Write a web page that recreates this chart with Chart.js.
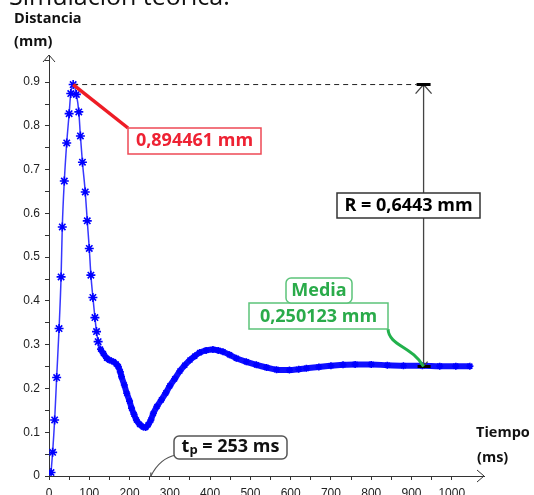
<!DOCTYPE html>
<html>
<head>
<meta charset="utf-8">
<script src="https://cdn.jsdelivr.net/npm/chart.js@4"></script>
<style>
  html, body { margin: 0; padding: 0; background: #fff; }
  #wrap { width: 534px; height: 495px; }
</style>
</head>
<body>
<div id="wrap"><canvas id="respuesta" width="534" height="495"></canvas></div>
<script>
// Respuesta simulada: tiempo (ms) y distancia (mm)
const tiempoMs = [5, 9, 14, 19, 25, 30, 33, 38, 44, 50, 54, 60, 68, 74, 78, 83, 90, 95, 100, 104, 109, 114, 118, 122,
  128, 135, 143, 150, 160, 167, 172, 177, 180, 187, 193, 200, 205, 211, 217, 225, 234, 240, 246, 253, 259, 268,
  279, 290, 300, 312, 325, 337, 350, 362, 374, 390, 407, 420, 432, 448, 465, 490, 515, 540, 565, 597, 620, 639,
  670, 700, 730, 760, 800, 840, 880, 927, 970, 1010, 1045];
const distanciaMm = [0.008, 0.054, 0.128, 0.225, 0.337, 0.455, 0.569, 0.674, 0.761, 0.828, 0.874, 0.894461, 0.872,
  0.832, 0.777, 0.717, 0.649, 0.583, 0.520, 0.459, 0.408, 0.362, 0.330, 0.307,
  0.290, 0.280, 0.269, 0.265, 0.261, 0.256, 0.250, 0.238, 0.227, 0.208, 0.189, 0.171, 0.155, 0.141, 0.128, 0.118,
  0.112, 0.111, 0.117, 0.128, 0.143, 0.159, 0.174, 0.190, 0.206, 0.222, 0.240, 0.253, 0.265, 0.274, 0.282, 0.287,
  0.289, 0.287, 0.284, 0.277, 0.269, 0.261, 0.254, 0.248, 0.243, 0.242, 0.244, 0.246, 0.249, 0.252, 0.254, 0.255,
  0.255, 0.253, 0.252, 0.252, 0.251, 0.251, 0.251];

// Valores anotados
const picoMm = 0.894461;
const mediaMm = 0.250123;
const rangoMm = 0.6443;
const tpMs = 253;
const cotaMs = 930;

// Marcas de los ejes
const xTicks = [0, 50, 100, 150, 200, 250, 300, 350, 400, 450, 500, 550, 600, 650, 700, 750, 800, 850, 900, 950, 1000];
const yTicks = [0, 0.05, 0.1, 0.15, 0.2, 0.25, 0.3, 0.35, 0.4, 0.45, 0.5, 0.55, 0.6, 0.65, 0.7, 0.75, 0.8, 0.85, 0.9, 0.95];

const puntos = tiempoMs.map((t, i) => ({ x: t, y: distanciaMm[i] }));
const FONT = '"Open Sans", "Noto Sans", sans-serif';

function caja(ctx, x, y, w, h, color, r) {
  ctx.beginPath();
  if (r) ctx.roundRect(x, y, w, h, r); else ctx.rect(x, y, w, h);
  ctx.fillStyle = '#fff';
  ctx.fill();
  ctx.lineWidth = 1.5;
  ctx.strokeStyle = color;
  ctx.stroke();
}

function texto(ctx, s, x, y, color, size, align) {
  ctx.font = 'bold ' + size + 'px ' + FONT;
  ctx.fillStyle = color;
  ctx.textAlign = align || 'center';
  ctx.textBaseline = 'middle';
  ctx.fillText(s, x, y);
}

const anotaciones = {
  id: 'anotaciones',
  afterDraw(chart) {
    const ctx = chart.ctx;
    const xs = chart.scales.x, ys = chart.scales.y;
    const area = chart.chartArea;
    ctx.save();

    // titulo recortado arriba
    ctx.font = '25px ' + FONT;
    ctx.fillStyle = '#111';
    ctx.textAlign = 'left';
    ctx.textBaseline = 'alphabetic';
    ctx.fillText('Simulación teórica:', 9, 5);

    // flechas de los ejes
    ctx.strokeStyle = '#333';
    ctx.lineWidth = 1;
    ctx.beginPath();
    ctx.moveTo(area.left - 6, area.top + 7);
    ctx.lineTo(area.left, area.top);
    ctx.lineTo(area.left + 6, area.top + 7);
    ctx.moveTo(area.right - 7, area.bottom - 6);
    ctx.lineTo(area.right, area.bottom);
    ctx.lineTo(area.right - 7, area.bottom + 6);
    ctx.stroke();

    // titulos de los ejes
    texto(ctx, 'Distancia', 14, 19, '#111', 14.5, 'left');
    texto(ctx, '(mm)', 14, 42, '#111', 14.5, 'left');
    texto(ctx, 'Tiempo', 476, 433, '#111', 14.5, 'left');
    texto(ctx, '(ms)', 477, 458, '#111', 14.5, 'left');

    const xPico = xs.getPixelForValue(tiempoMs[distanciaMm.indexOf(picoMm)]);
    const yPico = ys.getPixelForValue(picoMm);
    const yMedia = ys.getPixelForValue(mediaMm);
    const xCota = xs.getPixelForValue(cotaMs);

    // linea discontinua del pico
    ctx.setLineDash([5, 4]);
    ctx.strokeStyle = '#222';
    ctx.beginPath();
    ctx.moveTo(xPico, yPico);
    ctx.lineTo(xCota - 7, yPico);
    ctx.stroke();

    // tiempo de pico
    const xTp = xs.getPixelForValue(tpMs);
    const yMin = ys.getPixelForValue(Math.min(...distanciaMm));
    ctx.beginPath();
    ctx.moveTo(xTp, yMin);
    ctx.lineTo(xTp, area.bottom);
    ctx.stroke();
    ctx.setLineDash([]);

    // cota R
    ctx.strokeStyle = '#444';
    ctx.lineWidth = 1.3;
    ctx.beginPath();
    ctx.moveTo(xCota, yPico);
    ctx.lineTo(xCota, yMedia);
    ctx.moveTo(xCota - 8, yPico + 9);
    ctx.lineTo(xCota, yPico);
    ctx.lineTo(xCota + 8, yPico + 9);
    ctx.moveTo(xCota - 4, yMedia - 5);
    ctx.lineTo(xCota, yMedia);
    ctx.lineTo(xCota + 4, yMedia - 5);
    ctx.stroke();
    ctx.lineWidth = 3;
    ctx.strokeStyle = '#000';
    ctx.beginPath();
    ctx.moveTo(xCota - 7, yPico);
    ctx.lineTo(xCota + 7, yPico);
    ctx.moveTo(xCota - 6, yMedia);
    ctx.lineTo(xCota + 7, yMedia);
    ctx.stroke();

    caja(ctx, 337, 193, 143, 25, '#333', 0);
    texto(ctx, 'R = ' + rangoMm.toFixed(4).replace('.', ',') + ' mm', 408.5, 205.5, '#000', 18);

    // valor de pico
    ctx.strokeStyle = '#ee1c25';
    ctx.lineWidth = 3.5;
    ctx.beginPath();
    ctx.moveTo(xPico, yPico);
    ctx.lineTo(128, 128);
    ctx.stroke();
    caja(ctx, 128, 128, 133, 26, '#ee4a55', 0);
    texto(ctx, picoMm.toFixed(6).replace('.', ',') + ' mm', 194.5, 141, '#ee2233', 18);

    // media
    ctx.strokeStyle = '#22b14c';
    ctx.lineWidth = 3;
    ctx.beginPath();
    ctx.moveTo(388, 329);
    ctx.bezierCurveTo(389, 346, 412, 346, xCota, yMedia);
    ctx.stroke();
    caja(ctx, 249, 303, 139, 26, '#5cc47a', 0);
    caja(ctx, 286, 278, 66, 25, '#5cc47a', 5);
    texto(ctx, 'Media', 319, 291, '#2aab4a', 18);
    texto(ctx, mediaMm.toFixed(6).replace('.', ',') + ' mm', 318.5, 316.5, '#2aab4a', 18);

    // caja tp
    ctx.strokeStyle = '#555';
    ctx.lineWidth = 1.2;
    ctx.beginPath();
    ctx.moveTo(xTp, area.bottom);
    ctx.quadraticCurveTo(160, 458, 176, 455);
    ctx.stroke();
    caja(ctx, 174, 436, 113, 23, '#555', 5);
    ctx.font = 'bold 18px ' + FONT;
    const wT = ctx.measureText('t').width;
    ctx.font = 'bold 13px ' + FONT;
    const wP = ctx.measureText('p').width;
    ctx.font = 'bold 18px ' + FONT;
    const resto = ' = ' + tpMs + ' ms';
    const wR = ctx.measureText(resto).width;
    let x0 = 230.5 - (wT + wP + wR) / 2;
    texto(ctx, 't', x0, 447, '#111', 18, 'left');
    texto(ctx, 'p', x0 + wT, 450, '#111', 13, 'left');
    texto(ctx, resto, x0 + wT + wP, 447, '#111', 18, 'left');

    ctx.restore();
  }
};

new Chart(document.getElementById('respuesta'), {
  type: 'scatter',
  data: {
    datasets: [{
      data: puntos,
      showLine: true,
      borderColor: 'rgba(20,20,255,0.85)',
      borderWidth: 1.5,
      cubicInterpolationMode: 'monotone',
      segment: {
        borderWidth: c => c.p0.parsed.x >= 125 ? 6 : 1.5,
        borderColor: c => c.p0.parsed.x >= 125 ? '#1010ff' : 'rgba(20,20,255,0.85)'
      },
      pointStyle: 'star',
      pointRadius: c => c.raw && c.raw.x >= 125 ? 3.5 : 4.5,
      pointBorderWidth: 1.6,
      pointBorderColor: '#0000ff',
      pointBackgroundColor: '#0000ff'
    }]
  },
  options: {
    responsive: false,
    animation: false,
    layout: { padding: { top: 55, right: 50, left: 0, bottom: 0 } },
    plugins: { legend: { display: false }, tooltip: { enabled: false } },
    scales: {
      x: {
        type: 'linear',
        min: 0,
        max: 1080,
        afterBuildTicks: s => { s.ticks = xTicks.map(v => ({ value: v })); },
        afterFit: s => { s.height = 19; },
        grid: { drawOnChartArea: false, tickLength: 4, color: '#333' },
        border: { color: '#333', width: 1 },
        ticks: {
          autoSkip: false,
          maxRotation: 0,
          padding: 6,
          color: '#222',
          font: { family: '"Liberation Sans", Arial, sans-serif', size: 12 },
          callback: v => (v % 100 === 0 ? String(v) : '')
        }
      },
      y: {
        min: 0,
        max: 0.962,
        afterBuildTicks: s => { s.ticks = yTicks.map(v => ({ value: v })); },
        afterFit: s => { s.width = 49; },
        grid: { drawOnChartArea: false, tickLength: 4, color: '#333' },
        border: { color: '#333', width: 1 },
        ticks: {
          autoSkip: false,
          padding: 5,
          color: '#222',
          font: { family: '"Liberation Sans", Arial, sans-serif', size: 12 },
          callback: (v, i) => (i % 2 === 0 ? (i === 0 ? '0' : (i / 20).toFixed(1)) : '')
        }
      }
    }
  },
  plugins: [anotaciones]
});
</script>
</body>
</html>
